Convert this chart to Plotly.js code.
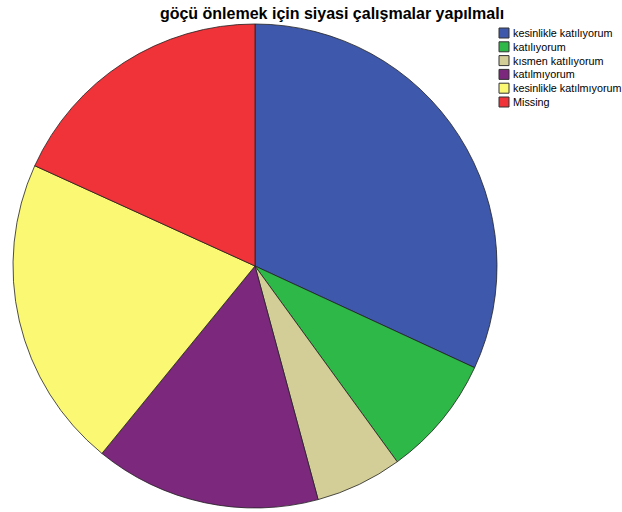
<!DOCTYPE html>
<html>
<head>
<meta charset="utf-8">
<script src="https://cdn.plot.ly/plotly-3.0.1.min.js"></script>
<style>html,body{margin:0;padding:0;background:#fff;}#chart{width:622px;height:512px;}</style>
</head>
<body>
<div id="chart"></div>
<script>
const categories = ["kesinlikle katılıyorum", "katılıyorum", "kısmen katılıyorum", "katılmıyorum", "kesinlikle katılmıyorum", "Missing"];
const values = [31.9, 8.1, 5.8, 15.1, 20.9, 18.2];
const colors = ["#3E58AC", "#2EB848", "#D3CE97", "#7C287D", "#FBF873", "#EF3338"];
const titleText = "göçü önlemek için siyasi çalışmalar yapılmalı";

const W = 622, H = 512;
const font = "Arial, 'Liberation Sans', sans-serif";

// legend built from the category list
const shapes = [], annotations = [];
const legX0 = 499, legBox = 10, legTop = 33, legStep = 13.8;
categories.forEach((c, i) => {
  const cy = legTop + i * legStep;
  shapes.push({type: "rect", xref: "paper", yref: "paper",
    x0: legX0 / W, x1: (legX0 + legBox) / W,
    y0: 1 - (cy + legBox / 2 - 24) / (H - 28), y1: 1 - (cy - legBox / 2 - 24) / (H - 28),
    fillcolor: colors[i], line: {color: "#333", width: 1}});
  annotations.push({xref: "paper", yref: "paper", x: (legX0 + legBox + 2) / W,
    y: 1 - (cy - 24) / (H - 28), xanchor: "left", yanchor: "middle",
    text: c, showarrow: false, font: {family: font, size: 10.8, color: "#000"}});
});

const data = [{
  type: "pie",
  labels: categories,
  values: values,
  sort: false,
  direction: "clockwise",
  rotation: 0,
  textinfo: "none",
  hoverinfo: "label+percent",
  marker: {colors: colors, line: {color: "#222", width: 0.8}},
  domain: {x: [13 / W, 497 / W], y: [0, 1]},
  showlegend: false
}];

const layout = {
  width: W, height: H,
  margin: {l: 0, r: 0, t: 24, b: 4},
  paper_bgcolor: "#fff",
  title: {text: "<b>" + titleText + "</b>", x: 332 / W, xanchor: "center",
    y: 1 - 13 / H, yanchor: "middle", yref: "container", xref: "container",
    font: {family: font, size: 16, color: "#000"}},
  shapes: shapes,
  annotations: annotations,
  showlegend: false
};

Plotly.newPlot("chart", data, layout, {displayModeBar: false, staticPlot: true});
</script>
</body>
</html>
